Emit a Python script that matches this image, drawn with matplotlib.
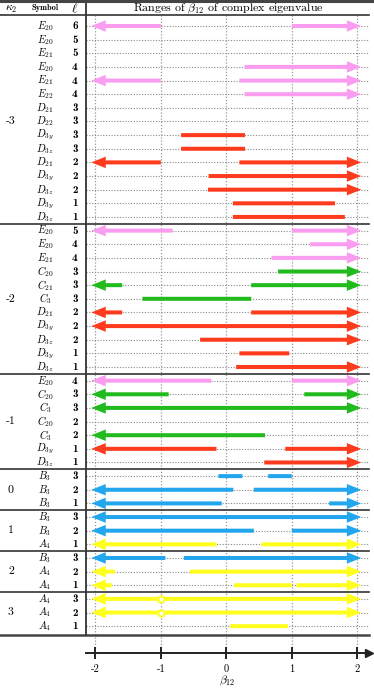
import matplotlib
matplotlib.use('Agg')
import matplotlib.pyplot as plt
from matplotlib.transforms import blended_transform_factory as btf

plt.rcParams['mathtext.fontset'] = 'cm'
plt.rcParams['axes.unicode_minus'] = False

# ---------------- data ----------------
kappa_labels = ['-3', '-2', '-1', '0', '1', '2', '3']
group_sizes = [15, 11, 7, 3, 3, 3, 3]

symbols = ['E_{20}', 'E_{20}', 'E_{21}', 'E_{20}', 'E_{21}', 'E_{22}', 'D_{21}', 'D_{22}',
           'D_{3y}', 'D_{3z}', 'D_{21}', 'D_{3y}', 'D_{3z}', 'D_{3y}', 'D_{3z}',
           'E_{20}', 'E_{20}', 'E_{21}', 'C_{20}', 'C_{21}', 'C_{3}', 'D_{21}', 'D_{3y}',
           'D_{3z}', 'D_{3y}', 'D_{3z}',
           'E_{20}', 'C_{20}', 'C_{3}', 'C_{20}', 'C_{3}', 'D_{3y}', 'D_{3z}',
           'B_{3}', 'B_{3}', 'B_{3}',
           'B_{3}', 'B_{3}', 'A_{4}',
           'B_{3}', 'A_{4}', 'A_{4}',
           'A_{4}', 'A_{4}', 'A_{4}']
ells = [6, 5, 5, 4, 4, 4, 3, 3, 3, 3, 2, 2, 2, 1, 1,
        5, 4, 4, 3, 3, 3, 2, 2, 2, 1, 1,
        4, 3, 3, 2, 2, 1, 1,
        3, 2, 1,
        3, 2, 1,
        3, 2, 1,
        3, 2, 1]
# beta_12 ranges per row; an end at -2 or 2 means the range continues (arrow)
ranges = [
    [(-2, -1), (1.0, 2)],
    [],
    [],
    [(0.28, 2)],
    [(-2, -1), (0.20, 2)],
    [(0.28, 2)],
    [],
    [],
    [(-0.69, 0.285)],
    [(-0.69, 0.285)],
    [(-2, -1), (0.20, 2)],
    [(-0.27, 2)],
    [(-0.28, 2)],
    [(0.10, 1.66)],
    [(0.10, 1.81)],
    [(-2, -0.82), (1.0, 2)],
    [(1.28, 2)],
    [(0.69, 2)],
    [(0.79, 2)],
    [(-2, -1.59), (0.38, 2)],
    [(-1.28, 0.38)],
    [(-2, -1.59), (0.38, 2)],
    [(-2, 2)],
    [(-0.40, 2)],
    [(0.20, 0.96)],
    [(0.15, 2)],
    [(-2, -0.23), (1.0, 2)],
    [(-2, -0.88), (1.19, 2)],
    [(-2, 2)],
    [],
    [(-2, 0.59)],
    [(-2, -0.15), (0.90, 2)],
    [(0.58, 2)],
    [(-0.12, 0.245), (0.64, 1.0)],
    [(-2, 0.107), (0.42, 2)],
    [(-2, -0.07), (1.57, 2)],
    [(-2, 2)],
    [(-2, 0.42), (1.0, 2)],
    [(-2, -0.15), (0.54, 2)],
    [(-2, -0.93), (-0.65, 2)],
    [(-2, -1.70), (-0.555, 2)],
    [(-2, -1.75), (0.12, 1.0), (1.07, 2)],
    [(-2, 2)],
    [(-2, 2)],
    [(0.06, 0.94)],
]
circle_rows = [42, 43]
circle_x = [-1, -1]

xticks = [-2, -1, 0, 1, 2]
xtick_labels = ['-2', '-1', '0', '1', '2']

# ---------------- style ----------------
colors = {'E': '#FA9DF0', 'D': '#FF3B1E', 'C': '#22BB1E', 'B': '#22A6EE', 'A': '#FFFF1E'}
W, H = 374, 688
fig = plt.figure(figsize=(W / 100, H / 100), dpi=100)

def fx(px):
    return px / W

def fy(py):
    return 1 - py / H

ax_top, ax_bot, ax_l, ax_r = 15, 653, 86, 369
ax = fig.add_axes([fx(ax_l), fy(ax_bot), fx(ax_r - ax_l), (ax_bot - ax_top) / H])
ax.patch.set_alpha(0)
row0, dy = 26, 13.64
ax.set_ylim((ax_bot - row0) / dy, (ax_top - row0) / dy)
x0, dx = 226.3, 65.5
ax.set_xlim((ax_l - x0) / dx, (ax_r - x0) / dx)

for s in ['top', 'left', 'right']:
    ax.spines[s].set_visible(False)
ax.spines['bottom'].set_linewidth(1.4)
ax.spines['bottom'].set_color('#222222')
ax.set_yticks([])
ax.set_xticks(xticks, labels=xtick_labels)
ax.tick_params(axis='x', direction='inout', length=9, width=1.4, color='#222222',
               pad=3.5, labelsize=7.5)
for lab in ax.get_xticklabels():
    lab.set_fontfamily('cmr10')
ax.plot(1.0, 0, marker='>', color='#222222', markersize=6, transform=ax.transAxes,
        clip_on=False)
fig.text(fx(227), fy(687.5), r'$\beta_{12}$', ha='center', va='bottom', fontsize=8.5)

nrows = len(symbols)
table_bottom = 44.62

# vertical grid lines
for t in xticks:
    ax.plot([t, t], [ax.get_ylim()[1], ax.get_ylim()[0]], ls=(0, (1, 1.5)), color='#999999',
            lw=0.9, zorder=0.5)
# row dotted lines
for i in range(nrows):
    ax.plot([ax.get_xlim()[0], ax.get_xlim()[1]], [i, i], ls=(0, (1, 1.5)), color='#888888',
            lw=0.8, zorder=0.6)

ov = 0.06
hs = 'head_length=0.5,head_width=0.2'
for i, segs in enumerate(ranges):
    col = colors[symbols[i][0]]
    for a, b in segs:
        la, rb = a <= -2, b >= 2
        xa = a - ov if la else a
        xb = b + ov if rb else b
        if la and rb:
            st = '<|-|>,' + hs
        elif la:
            st = '<|-,' + hs
        elif rb:
            st = '-|>,' + hs
        else:
            st = '-'
        ax.annotate('', xy=(xb, i), xytext=(xa, i),
                    arrowprops=dict(arrowstyle=st, color=col, lw=2.9, shrinkA=0, shrinkB=0,
                                    mutation_scale=10, joinstyle='miter', capstyle='butt'),
                    zorder=2)
for r, cx in zip(circle_rows, circle_x):
    col = colors[symbols[r][0]]
    ax.plot(cx, r, 'o', ms=4.5, mfc='white', mec=col, mew=1.5, zorder=3)

# table lines & texts
tr = btf(fig.transFigure, ax.transData)
line_kw = dict(transform=tr, clip_on=False, color='#333333', lw=1.2)
start = 0
for k, n in zip(kappa_labels, group_sizes):
    mid = start + (n - 1) / 2
    ax.text(fx(11), mid, k, transform=tr, ha='center', va='center', family='cmr10',
            fontsize=8.5)
    start += n
    if start < nrows:
        ax.plot([0, fx(ax_r)], [start - 0.5, start - 0.5], **line_kw)
ax.plot([0, fx(ax_r)], [table_bottom, table_bottom], transform=tr, clip_on=False,
        color='#444444', lw=1.8)

for i in range(nrows):
    ax.text(fx(45), i, '$' + symbols[i] + '$', transform=tr, ha='center', va='center',
            fontsize=7.5)
    ax.text(fx(75), i, str(ells[i]), transform=tr, ha='center', va='center',
            family='cmb10', fontsize=8)

# vertical divider and header lines (figure coords)
fig.add_artist(plt.Line2D([fx(ax_l), fx(ax_l)], [fy(0), fy(635)], color='#333333', lw=1.3))
fig.add_artist(plt.Line2D([0, fx(ax_r)], [fy(ax_top), fy(ax_top)], color='#333333', lw=1.2))
fig.add_artist(plt.Line2D([0, 1], [fy(0.8), fy(0.8)], color='#444444', lw=2.2))

fig.text(fx(11), fy(8.5), r'$\kappa_2$', ha='center', va='center', fontsize=8.5)
fig.text(fx(45), fy(8.5), 'Symbol', ha='center', va='center', family='cmb10', fontsize=6)
fig.text(fx(75), fy(8.5), r'$\ell$', ha='center', va='center', fontsize=9.5)
fig.text(fx(228), fy(8.5), r'Ranges of $\beta_{12}$ of complex eigenvalue', ha='center',
         va='center', family='cmr10', fontsize=8.6)

fig.savefig('out.png', dpi=100)
